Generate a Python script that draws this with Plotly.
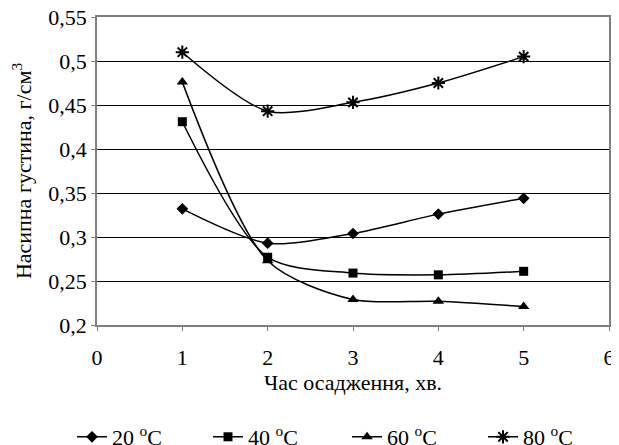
import plotly.graph_objects as go

x_vals = [1, 2, 3, 4, 5]
s20 = [0.332, 0.293, 0.304, 0.326, 0.344]
s40 = [0.431, 0.277, 0.259, 0.257, 0.261]
s60 = [0.476, 0.273, 0.229, 0.227, 0.221]
s80 = [0.510, 0.443, 0.453, 0.475, 0.505]
names = ["20 <sup>o</sup>C", "40 <sup>o</sup>C", "60 <sup>o</sup>C", "80 <sup>o</sup>C"]
y_ticks = [0.2, 0.25, 0.3, 0.35, 0.4, 0.45, 0.5, 0.55]
x_ticks = [0, 1, 2, 3, 4, 5, 6]

series = [s20, s40, s60, s80]
symbols = ["diamond", "square", "triangle-up", "asterisk-open"]
sizes = [9, 9, 10, 11]
legend_ids = ["legend", "legend2", "legend3", "legend4"]
legend_x = [0.1034, 0.3231, 0.5477, 0.7674]

ff = "Liberation Serif, DejaVu Serif, serif"
tf = dict(family=ff, size=22, color="black")

fig = go.Figure()
for ys, nm, sym, sz, lid in zip(series, names, symbols, sizes, legend_ids):
    fig.add_trace(go.Scatter(
        x=x_vals, y=ys, name=nm, mode="lines+markers", legend=lid,
        line=dict(color="black", width=1.5, shape="spline", smoothing=0.8),
        marker=dict(symbol=sym, size=sz, color="black",
                    line=dict(color="black", width=2 if sym == "asterisk-open" else 0)),
    ))

legend_layout = {}
for lid, lx in zip(legend_ids, legend_x):
    legend_layout[lid] = dict(orientation="h", xref="container", yref="container",
                              x=lx, xanchor="left", y=0.036, yanchor="middle",
                              font=tf, itemwidth=30, bgcolor="rgba(0,0,0,0)")

fig.update_layout(
    width=619, height=445,
    margin=dict(l=89, r=18, t=9, b=128, autoexpand=False),
    paper_bgcolor="white", plot_bgcolor="white",
    font=tf,
    separators=", ",
    showlegend=True,
    xaxis=dict(range=[0, 6], tickvals=x_ticks, showgrid=False, zeroline=False,
               showline=True, linecolor="#808080", linewidth=1.5, mirror=True,
               ticks="outside", ticklen=4, tickcolor="#808080", tickfont=tf,
               ticklabelstandoff=8, ticklabeloverflow="allow",
               title=dict(text="Час осадження, хв.", font=tf, standoff=4)),
    yaxis=dict(range=[0.2, 0.55], tickvals=y_ticks, showgrid=True, gridcolor="black", gridwidth=1,
               zeroline=False, showline=True, linecolor="#808080", linewidth=1.5, mirror=True,
               ticks="outside", ticklen=4, tickcolor="#808080", tickfont=tf,
               ticklabeloverflow="allow",
               title=dict(text="Насипна густина, г/см<sup>3</sup>", font=tf, standoff=14)),
    **legend_layout,
)
fig.write_html("out.html")
